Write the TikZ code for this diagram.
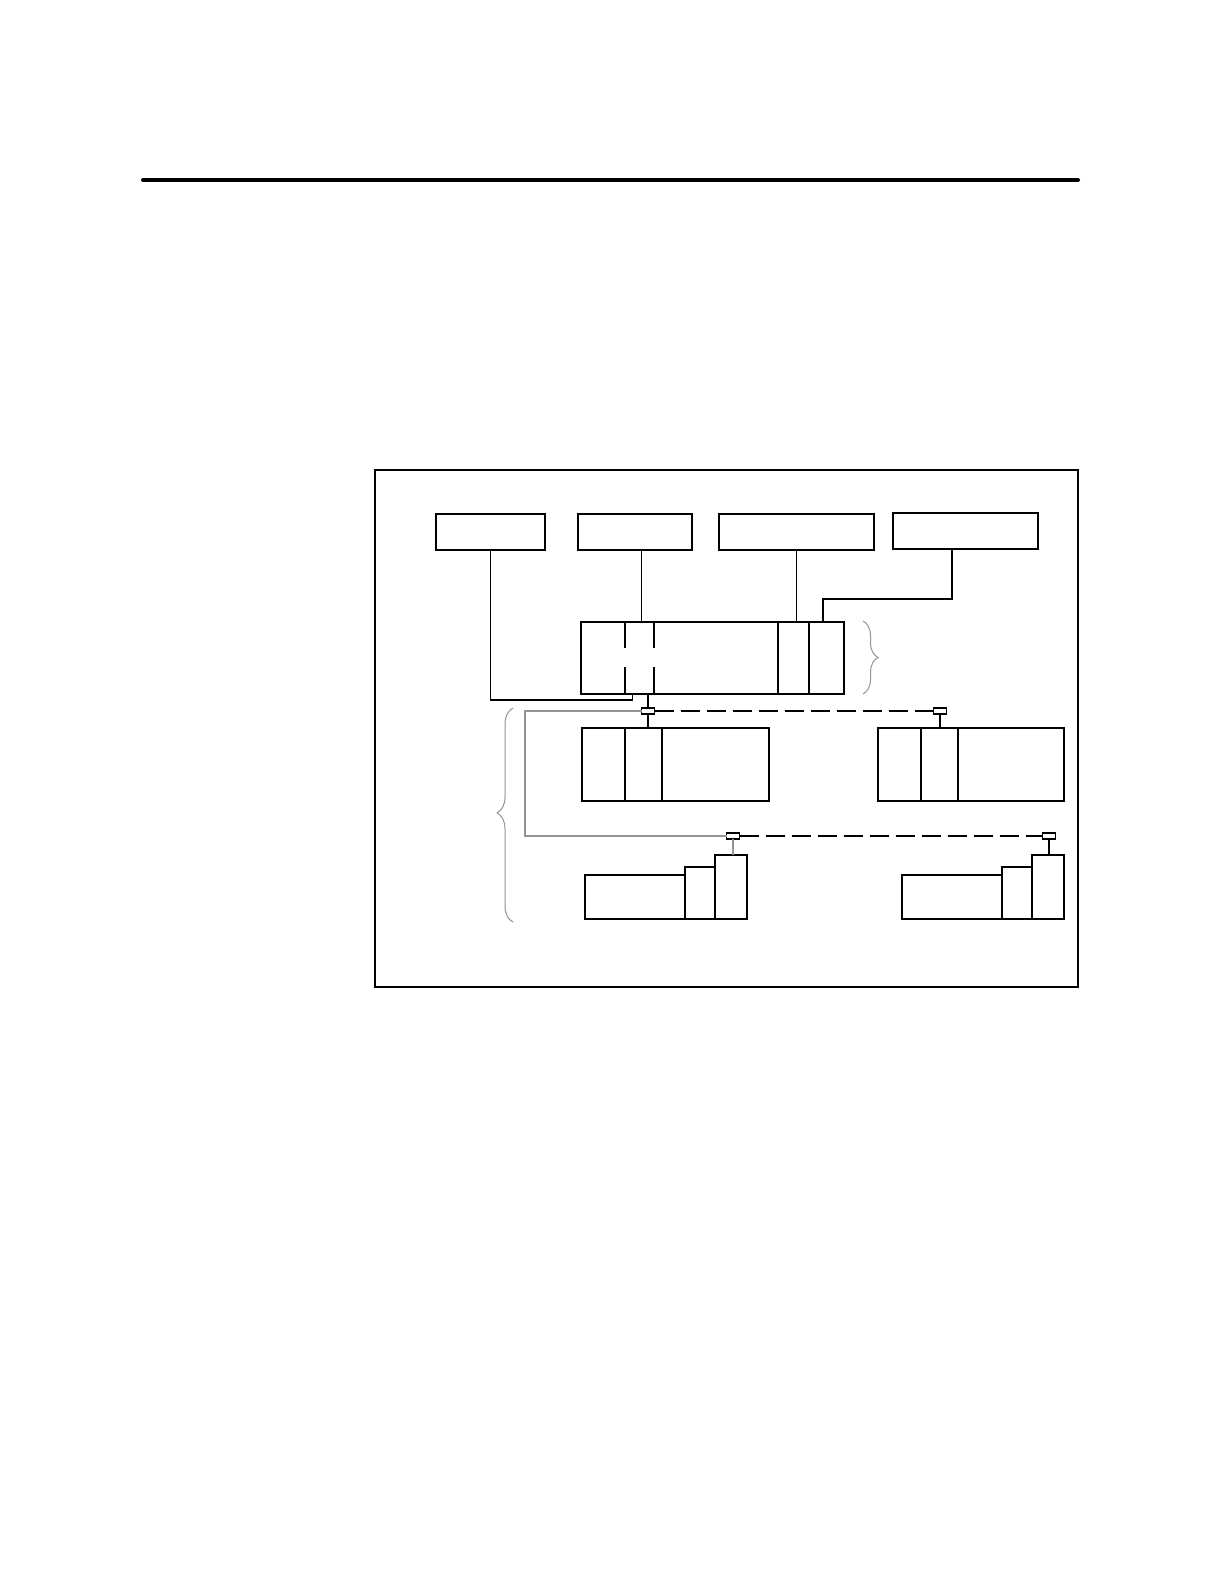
\documentclass[tikz,border=0pt]{standalone}
\usetikzlibrary{decorations.pathreplacing}
\definecolor{lightgrey}{gray}{0.58}
\tikzset{
  box/.style={draw, line width=0.6pt, inner sep=0pt, outer sep=0pt},
  tap/.style={draw, line width=0.6pt, inner sep=0pt, outer sep=0pt, minimum width=6.5pt, minimum height=3pt},
  wire/.style={line width=0.6pt},
  greywire/.style={line width=0.6pt, draw=lightgrey},
  bus/.style={line width=0.6pt, dash pattern=on 9.5pt off 3.5pt},
  bracegrey/.style={draw=lightgrey, line width=0.5pt, decorate}
}
\begin{document}
\begin{tikzpicture}[x=0.5pt, y=-0.5pt]
\useasboundingbox (0,0) rectangle (1224,1584);
% top rule
\coordinate (ruleL) at (143,180);
\coordinate (ruleR) at (1078,180);
\draw[line width=2pt, line cap=round] (ruleL) -- (ruleR);
% frame
\node[draw, line width=1pt, inner sep=0pt, outer sep=0pt, minimum width=351.5pt, minimum height=258.5pt] (frame) at (726.5,728.5) {};
% top boxes
\node[box, minimum width=54.5pt, minimum height=18pt] (b1) at (490.5,532) {};
\node[box, minimum width=57pt, minimum height=18pt] (b2) at (635,532) {};
\node[box, minimum width=77.5pt, minimum height=18pt] (b3) at (796.5,532) {};
\node[box, minimum width=72.5pt, minimum height=18pt] (b4) at (965.5,531) {};
% main box
\node[box, minimum width=131.5pt, minimum height=36pt] (cpu) at (712.5,658) {};
\draw[wire] (625,622) -- (625,648) (625,667) -- (625,694);
\draw[wire] (654,622) -- (654,648) (654,667) -- (654,694);
\draw[wire] (778,622) -- (778,694);
\draw[wire] (809,622) -- (809,694);
% connectors from top boxes
\coordinate (j1) at (632.5,694);
\draw[wire] (b1.south) |- (632.5,700) -- (j1);
\draw[wire] (b2.south -| 641.5,0) -- (641.5,622);
\draw[wire] (b3.south) -- (b3.south |- cpu.north);
\draw[wire] (b4.south -| 952,0) |- (823,599) -- (823,622);
% brace right of main box
\draw[bracegrey, decoration={brace, amplitude=7.5pt, aspect=0.5}] (863,621) -- (863,694);
% taps
\node[tap] (t1) at (648,711) {};
\node[tap] (t2) at (940,711) {};
\node[tap] (t3) at (733,836) {};
\node[tap] (t4) at (1049,836) {};
% upper modules
\node[box, minimum width=93.5pt, minimum height=36.5pt] (mA) at (675.5,764.5) {};
\draw[wire] (625,728) -- (625,801);
\draw[wire] (662,728) -- (662,801);
\node[box, minimum width=93pt, minimum height=36.5pt] (mB) at (971,764.5) {};
\draw[wire] (921,728) -- (921,801);
\draw[wire] (958,728) -- (958,801);
% main drop
\draw[wire] (cpu.south -| t1) -- (t1.north);
\draw[wire] (t1.south) -- (t1.south |- mA.north);
\draw[bus] (t1.east) -- (t2.west);
\draw[wire] (t2.south) -- (t2.south |- mB.north);
% grey local link
\coordinate (g1) at (525,711);
\coordinate (g2) at (525,836);
\draw[greywire] (t1.west) -- (g1) -- (g2) -- (t3.west);
% lower-left assembly
\node[box, minimum width=50pt, minimum height=22pt] (la) at (635,897) {};
\node[box, minimum width=15pt, minimum height=26pt] (lb) at (700,893) {};
\node[box, minimum width=16pt, minimum height=32pt] (lc) at (731,887) {};
% lower-right assembly
\node[box, minimum width=50pt, minimum height=22pt] (ra) at (952,897) {};
\node[box, minimum width=15pt, minimum height=26pt] (rb) at (1017,893) {};
\node[box, minimum width=16pt, minimum height=32pt] (rc) at (1048,887) {};
% lower links
\draw[greywire] (t3.south) -- (t3.south |- lc.north);
\draw[bus] (t3.east) -- (t4.west);
\draw[wire] (t4.south) -- (t4.south |- rc.north);
% left brace
\draw[bracegrey, decoration={brace, amplitude=8pt, aspect=0.51}] (513,922) -- (513,708);
\end{tikzpicture}
\end{document}
